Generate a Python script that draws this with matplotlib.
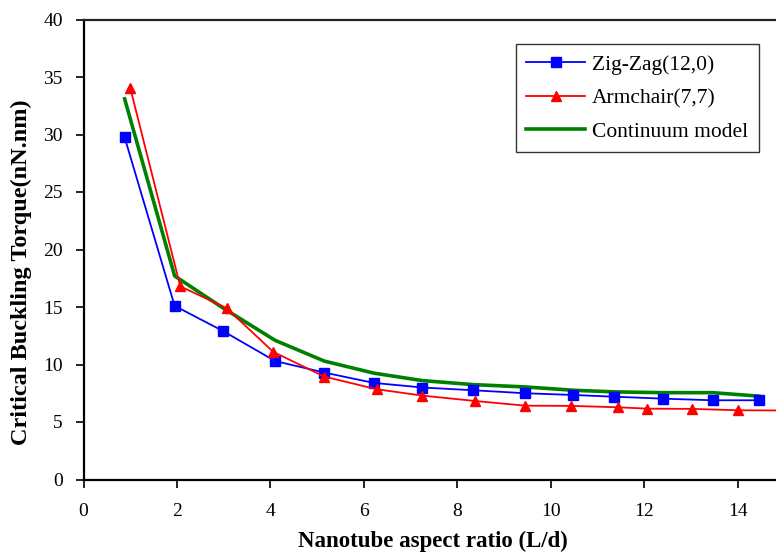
import matplotlib
matplotlib.use("Agg")
import matplotlib.pyplot as plt

plt.rcParams['font.family'] = ['Liberation Serif', 'DejaVu Serif']

# Zig-Zag (12,0) nanotube
zz_x = [0.88, 1.95, 2.99, 4.10, 5.15, 6.21, 7.25, 8.34, 9.45, 10.48, 11.35, 12.40, 13.46, 14.45]
zz_y = [29.75, 15.1, 12.9, 10.3, 9.3, 8.4, 8.0, 7.76, 7.5, 7.35, 7.2, 7.03, 6.89, 6.89]

# Armchair (7,7) nanotube
ac_x = [1.00, 2.07, 3.06, 4.06, 5.15, 6.27, 7.24, 8.37, 9.45, 10.44, 11.44, 12.06, 13.02, 14.00, 15.00]
ac_y = [34.05, 16.8, 14.9, 11.1, 8.95, 7.85, 7.3, 6.83, 6.42, 6.4, 6.28, 6.16, 6.14, 6.02, 6.0]

# Continuum model
cm_x = [0.88, 1.95, 2.99, 4.10, 5.15, 6.21, 7.25, 8.34, 9.45, 10.48, 11.35, 12.40, 13.46, 14.45]
cm_y = [33.1, 17.7, 14.9, 12.1, 10.3, 9.25, 8.6, 8.25, 8.05, 7.76, 7.62, 7.55, 7.55, 7.25]

x_ticks = [0, 2, 4, 6, 8, 10, 12, 14]
y_ticks = [0, 5, 10, 15, 20, 25, 30, 35, 40]

fig = plt.figure(figsize=(7.76, 5.55), dpi=100)
left_px, right_px, bottom_px, top_px = 83.5, 776.0, 479.5, 19.5
ax_w = right_px - left_px
ax_h = bottom_px - top_px
ax = fig.add_axes([left_px / 776, (555 - bottom_px) / 555, ax_w / 776, ax_h / 555])

ax.plot(zz_x, zz_y, color='#0000FF', lw=1.3, marker='s', ms=6.6,
        mfc='#0000FF', mec='#0000FF', label='Zig-Zag(12,0)', zorder=3)
ax.plot(ac_x, ac_y, color='#FF0000', lw=1.3, marker='^', ms=7.2,
        mfc='#FF0000', mec='#FF0000', label='Armchair(7,7)', zorder=3)
ax.plot(cm_x, cm_y, color='#008000', lw=2.6, label='Continuum model', zorder=2)

ax.set_xlim(0, ax_w / 46.74)
ax.set_ylim(0, 40)
ax.set_xticks(x_ticks)
ax.set_yticks(y_ticks)
ax.set_xticklabels([str(v) for v in x_ticks])
ax.set_yticklabels([str(v) for v in y_ticks])

ax.spines['right'].set_visible(False)
for s in ['left', 'bottom']:
    ax.spines[s].set_linewidth(1.6)
ax.spines['top'].set_linewidth(1.6)
ax.spines['top'].set_color('#222222')

ax.tick_params(axis='both', direction='out', length=6, width=1.2,
               labelsize=14, colors='black')
ax.tick_params(axis='x', pad=11)
ax.tick_params(axis='y', pad=9)

ax.set_xlabel('Nanotube aspect ratio (L/d)', fontsize=16.5, fontweight='bold')
ax.xaxis.set_label_coords((433 - left_px) / ax_w, -(531 - bottom_px) / ax_h)
ax.set_ylabel('Critical Buckling Torque(nN.nm)', fontsize=17.5, fontweight='bold')
ax.yaxis.set_label_coords((32 - left_px) / ax_w, (bottom_px - 272) / ax_h)

leg = ax.legend(loc='upper right', bbox_to_anchor=((759 - left_px) / ax_w,
                                                   (bottom_px - 44) / ax_h),
                fontsize=15.5, frameon=True, fancybox=False, edgecolor='black',
                handlelength=2.7, handletextpad=0.35, borderpad=0.5, labelspacing=0.62,
                borderaxespad=0)
leg.get_frame().set_linewidth(1.0)

fig.savefig('out.png', dpi=100)
